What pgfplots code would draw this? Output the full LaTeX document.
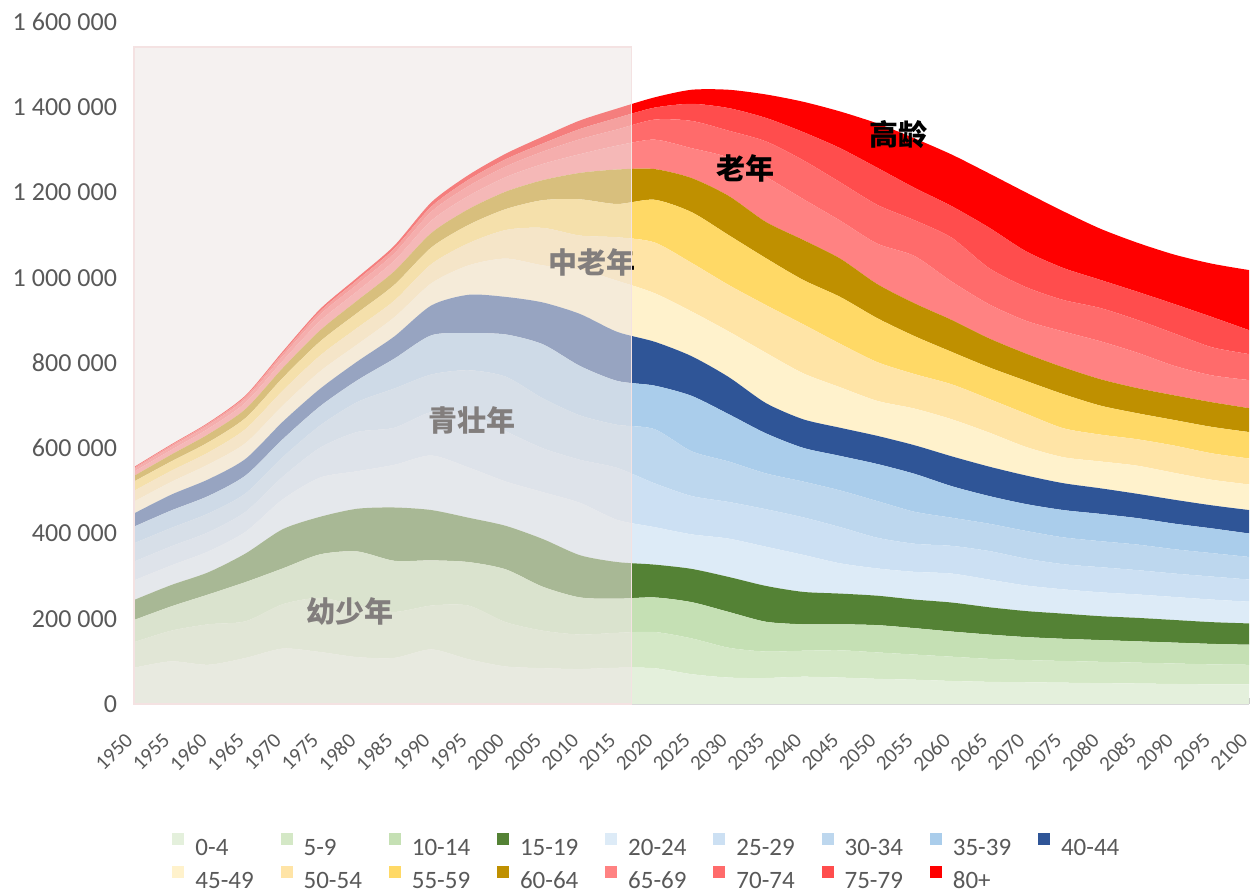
\documentclass[border=0pt]{standalone}
\usepackage{fontspec}
\setmainfont{Carlito}
\newfontfamily\cjk{Noto Sans CJK SC}
\usepackage{pgfplots}
\usepackage{pgfplotstable}
\pgfplotsset{compat=1.18}

\definecolor{c0}{HTML}{E4F0DC}
\definecolor{c1}{HTML}{D4E8C6}
\definecolor{c2}{HTML}{C5E0B4}
\definecolor{c3}{HTML}{548235}
\definecolor{c4}{HTML}{DDEBF7}
\definecolor{c5}{HTML}{CCE0F3}
\definecolor{c6}{HTML}{BDD7EE}
\definecolor{c7}{HTML}{AACDEB}
\definecolor{c8}{HTML}{2F5597}
\definecolor{c9}{HTML}{FFF2CC}
\definecolor{c10}{HTML}{FFE4A6}
\definecolor{c11}{HTML}{FFD966}
\definecolor{c12}{HTML}{BF9000}
\definecolor{c13}{HTML}{FF8282}
\definecolor{c14}{HTML}{FF6B6B}
\definecolor{c15}{HTML}{FF4D4D}
\definecolor{c16}{HTML}{FF0000}
\definecolor{tickgray}{HTML}{595959}

\newcommand{\ts}{\hspace{0.23em}}

% population by age group, thousands
\pgfplotstableread{
year a0 a1 a2 a3 a4 a5 a6 a7 a8 a9 a10 a11 a12 a13 a14 a15 a16
1950 85 60 52 47 46 44 43 39 31 28 25 22 13 10 6 3 2
1955 100 72 57 50 46 45 43 41 37 30 26 22 16 11 7 4 2
1960 92 95 70 52 49 45 44 41 39 35 28 24 19 13 8 4 2
1965 108 86 92 67 51 47 43 42 39 37 33 26 21 15 9 5 3
1970 130 104 84 92 70 53 46 42 41 38 35 30 23 17 11 7 4
1975 122 127 102 88 92 70 52 45 41 41 37 33 26 22 15 8 5
1980 110 121 127 100 88 92 70 51 44 40 39 35 29 22 16 10 6
1985 108 108 120 125 100 87 92 70 52 45 39 37 32 25 17 11 7
1990 128 103 106 118 128 102 88 92 70 52 45 39 34 29 21 12 10
1995 105 126 102 104 118 128 100 87 90 69 52 43 37 31 23 15 11
2000 88 104 124 102 104 118 128 99 88 90 67 49 41 34 25 17 13
2005 84 88 103 112 110 103 117 127 98 87 88 65 47 38 29 19 16
2010 82 81 87 99 123 101 104 116 122 104 80 85 62 44 35 24 20
2015 85 82 80 86 99 122 101 103 115 120 102 78 81 56 38 27 22
2020 84 85 81 77 88 103 127 102 103 114 119 100 72 69 47 28 24
2025 70 84 85 78 81 90 105 130 93 105 114 119 80 70 64 40 33
2030 62 70 84 82 90 86 95 111 87 107 109 117 92 90 63 53 43
2035 61 62 70 84 92 88 84 94 71 118 112 110 85 106 83 55 55
2040 64 61 62 76 87 88 84 79 67 108 115 104 94 96 91 66 71
2045 62 64 61 72 71 85 86 81 66 95 102 110 90 89 90 80 86
2050 59 62 64 69 64 72 86 87 66 82 91 103 80 95 91 87 104
2055 57 59 62 67 65 66 75 89 67 86 81 89 77 111 84 76 116
2060 54 57 59 68 68 65 66 74 70 87 82 76 75 90 103 74 121
2065 52 54 57 64 65 67 64 65 69 80 79 74 68 80 85 95 127
2070 51 52 54 61 60 63 65 63 67 67 78 77 64 77 79 84 138
2075 50 51 52 59 57 59 63 64 63 61 68 80 63 84 74 75 133
2080 49 50 51 56 56 59 61 64 60 63 63 68 62 89 78 66 120
2085 48 49 50 55 55 57 60 62 57 66 62 61 59 83 77 66 115
2090 47 48 49 53 54 55 57 60 56 63 64 60 58 69 76 69 116
2095 46 47 48 51 53 54 55 58 54 60 62 62 58 63 66 71 125
2100 46 46 47 50 51 52 53 55 55 60 61 62 56 66 61 56 141
}\popdata

\begin{document}
\begin{tikzpicture}
\path[use as bounding box] (0,0) rectangle (625.5pt,446.5pt);
\begin{axis}[
  at={(67pt,94.5pt)}, anchor=south west,
  scale only axis, width=557.5pt, height=341pt,
  xmin=1950, xmax=2100, ymin=0, ymax=1600,
  stack plots=y,
  axis lines*=left,
  y axis line style={draw=none},
  x axis line style={draw={rgb,255:red,217;green,217;blue,217}, line width=0.8pt},
  xtick={1950,1955,...,2100},
  ytick={0,200,...,1600},
  yticklabels={0,200\ts000,400\ts000,600\ts000,800\ts000,1\ts000\ts000,1\ts200\ts000,1\ts400\ts000,1\ts600\ts000},
  /pgf/number format/1000 sep={},
  /pgf/number format/assume math mode=true,
  ytick style={draw=none},
  xtick style={draw={rgb,255:red,200;green,200;blue,200}, line width=0.5pt},
  minor x tick num=4,
  tick align=inside,
  major tick length=3pt, minor tick length=2pt,
  yticklabel style={font=\fontsize{13}{15}\selectfont, text=tickgray, xshift=-5pt},
  xticklabel style={font=\fontsize{10.5}{12}\selectfont, text=tickgray, yshift=-14pt, rotate=45, anchor=east},
  legend columns=9,
  legend style={at={(rel axis cs:0.0341,-0.1891)}, anchor=north west, draw=none, fill=none,
    inner sep=0pt, font=\fontsize{12.5}{12.5}\selectfont, text=tickgray,
    /tikz/every odd column/.append style={column sep=3.5pt},
    /tikz/every even column/.append style={column sep=2.6pt},
    nodes={text width=38pt, text height=8.5pt, text depth=0.5pt, inner xsep=2pt, inner ysep=0.5pt, align=left}, row sep=4.5pt},
  legend image code/.code={\fill[#1] (0pt,1pt) rectangle (6pt,7pt);},
  every axis plot/.append style={draw=none, smooth, tension=0.45},
]
\addplot[fill=c0] table[x=year,y=a0] {\popdata} \closedcycle; \addlegendentry{0-4}
\addplot[fill=c1] table[x=year,y=a1] {\popdata} \closedcycle; \addlegendentry{5-9}
\addplot[fill=c2] table[x=year,y=a2] {\popdata} \closedcycle; \addlegendentry{10-14}
\addplot[fill=c3] table[x=year,y=a3] {\popdata} \closedcycle; \addlegendentry{15-19}
\addplot[fill=c4] table[x=year,y=a4] {\popdata} \closedcycle; \addlegendentry{20-24}
\addplot[fill=c5] table[x=year,y=a5] {\popdata} \closedcycle; \addlegendentry{25-29}
\addplot[fill=c6] table[x=year,y=a6] {\popdata} \closedcycle; \addlegendentry{30-34}
\addplot[fill=c7] table[x=year,y=a7] {\popdata} \closedcycle; \addlegendentry{35-39}
\addplot[fill=c8] table[x=year,y=a8] {\popdata} \closedcycle; \addlegendentry{40-44}
\addplot[fill=c9] table[x=year,y=a9] {\popdata} \closedcycle; \addlegendentry{45-49}
\addplot[fill=c10] table[x=year,y=a10] {\popdata} \closedcycle; \addlegendentry{50-54}
\addplot[fill=c11] table[x=year,y=a11] {\popdata} \closedcycle; \addlegendentry{55-59}
\addplot[fill=c12] table[x=year,y=a12] {\popdata} \closedcycle; \addlegendentry{60-64}
\addplot[fill=c13] table[x=year,y=a13] {\popdata} \closedcycle; \addlegendentry{65-69}
\addplot[fill=c14] table[x=year,y=a14] {\popdata} \closedcycle; \addlegendentry{70-74}
\addplot[fill=c15] table[x=year,y=a15] {\popdata} \closedcycle; \addlegendentry{75-79}
\addplot[fill=c16] table[x=year,y=a16] {\popdata} \closedcycle; \addlegendentry{80+}

\coordinate (ov1) at (axis cs:1950,0);
\coordinate (ov2) at (axis cs:2016.9,1541);
\coordinate (lA) at (axis cs:1979.06,215.8);
\coordinate (lB) at (axis cs:1995.5,666.3);
\coordinate (lC) at (axis cs:2011.6,1036.9);
\coordinate (lD) at (axis cs:2032.2,1257.4);
\coordinate (lE) at (axis cs:2052.8,1334.9);
\end{axis}
\node[font=\cjk\bfseries\fontsize{14.5}{16}\selectfont, text=black] at (lA) {幼少年};
\node[font=\cjk\bfseries\fontsize{14.5}{16}\selectfont, text=black] at (lB) {青壮年};
\node[font=\cjk\bfseries\fontsize{14.5}{16}\selectfont, text=black] at (lC) {中老年};
\fill[fill={rgb,255:red,237;green,230;blue,228}, fill opacity=0.55] (ov1) rectangle (ov2);
\draw[draw={rgb,255:red,244;green,226;blue,226}, line width=0.8pt] (ov1) rectangle (ov2);
\node[font=\cjk\bfseries\fontsize{14.5}{16}\selectfont, text=black] at (lD) {老年};
\node[font=\cjk\bfseries\fontsize{14.5}{16}\selectfont, text=black] at (lE) {高龄};
\end{tikzpicture}
\end{document}
